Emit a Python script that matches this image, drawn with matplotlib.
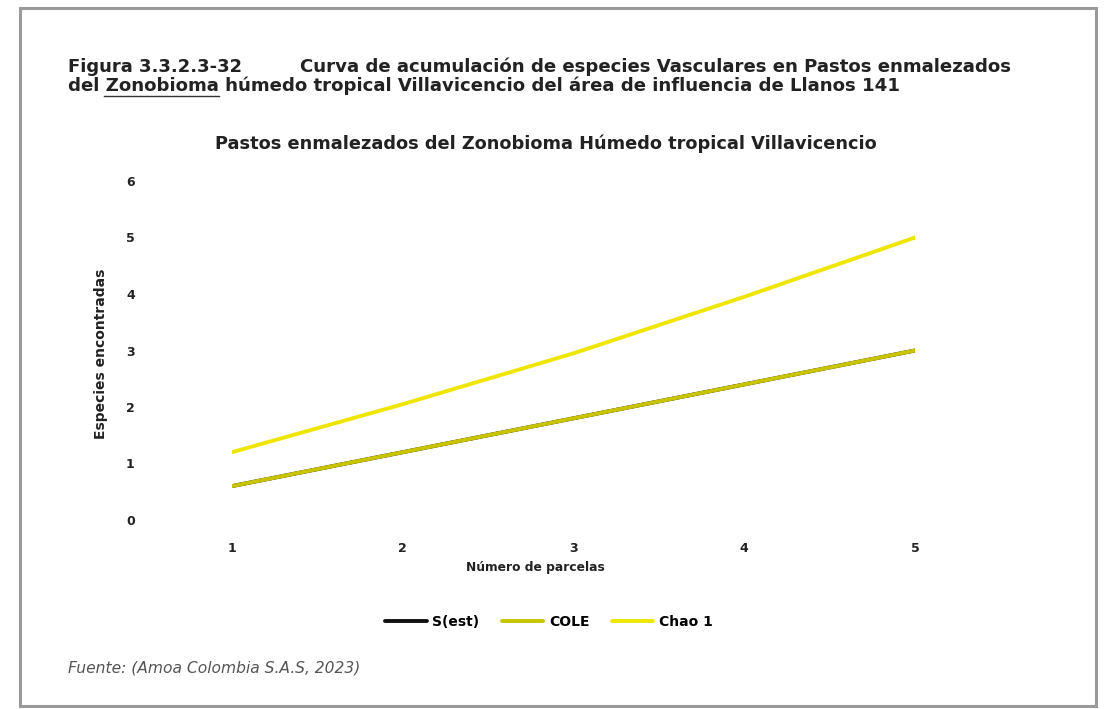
import matplotlib.pyplot as plt
from matplotlib.patches import Rectangle
from matplotlib.lines import Line2D

plt.rcParams['font.family'] = ['DejaVu Sans']

# datos de la curva de acumulacion
parcelas = [1, 2, 3, 4, 5]
s_est = [0.6, 1.2, 1.8, 2.4, 3.0]
cole = [0.6, 1.2, 1.8, 2.4, 3.0]
chao1 = [1.2, 2.05, 2.95, 3.95, 5.0]
series = ['S(est)', 'COLE', 'Chao 1']
colores = ['#111111', '#c9c400', '#eee600']

W, H = 1104, 709
fig = plt.figure(figsize=(W / 100, H / 100), dpi=100)
fig.patch.set_facecolor('white')

# marco de la pagina
fig.add_artist(Rectangle((20 / W, 1 - 706 / H), 1076 / W, 698 / H,
                         transform=fig.transFigure, fill=False,
                         edgecolor='#9a9a9a', linewidth=2.2))

tc = '#222222'
fig.text(68 / W, 1 - 67 / H, 'Figura 3.3.2.3-32', fontsize=13,
         fontweight='bold', va='center', color=tc)
fig.text(300 / W, 1 - 67 / H,
         'Curva de acumulación de especies Vasculares en Pastos enmalezados',
         fontsize=13.1, fontweight='bold', va='center', color=tc)
fig.text(68 / W, 1 - 86 / H,
         'del Zonobioma húmedo tropical Villavicencio del área de influencia de Llanos 141',
         fontsize=13.1, fontweight='bold', va='center', color=tc)
fig.add_artist(Line2D([104 / W, 219 / W], [1 - 96 / H, 1 - 96 / H],
                      transform=fig.transFigure, color='#333333', lw=1))

fig.text(546 / W, 1 - 144 / H,
         'Pastos enmalezados del Zonobioma Húmedo tropical Villavicencio',
         fontsize=12.8, fontweight='bold', ha='center', va='center', color=tc)

ax = fig.add_axes([232 / W, 1 - 520 / H, (915 - 232) / W, (520 - 181) / H])
ax.set_facecolor('none')
for nombre, valores, color in zip(series, [s_est, cole, chao1], colores):
    ax.plot(parcelas, valores, color=color, lw=2.8, label=nombre,
            solid_capstyle='round')

ax.set_xlim(1, 5)
ax.set_ylim(0, 6)
ax.set_xticks(parcelas)
ax.set_yticks(range(0, 7))
for s in ax.spines.values():
    s.set_visible(False)
ax.tick_params(length=0, labelsize=9, colors=tc)
ax.tick_params(axis='y', pad=70)
ax.tick_params(axis='x', pad=16)
for lbl in ax.get_xticklabels() + ax.get_yticklabels():
    lbl.set_fontweight('bold')

fig.text(535 / W, 1 - 567 / H, 'Número de parcelas', fontsize=8.8,
         fontweight='bold', ha='center', va='center', color=tc)
fig.text(101 / W, 1 - 354 / H, 'Especies encontradas', fontsize=10,
         fontweight='bold', ha='center', va='center', rotation=90, color=tc)

fig.legend(loc='center', bbox_to_anchor=(549 / W, 1 - 622 / H), ncol=3,
           frameon=False, handlelength=3.0, columnspacing=1.6,
           handletextpad=0.4, prop={'weight': 'bold', 'size': 10})

fig.text(68 / W, 1 - 668 / H, 'Fuente: (Amoa Colombia S.A.S, 2023)',
         fontsize=11.2, style='italic', va='center', color='#555555')

fig.savefig('out.png', dpi=100)
